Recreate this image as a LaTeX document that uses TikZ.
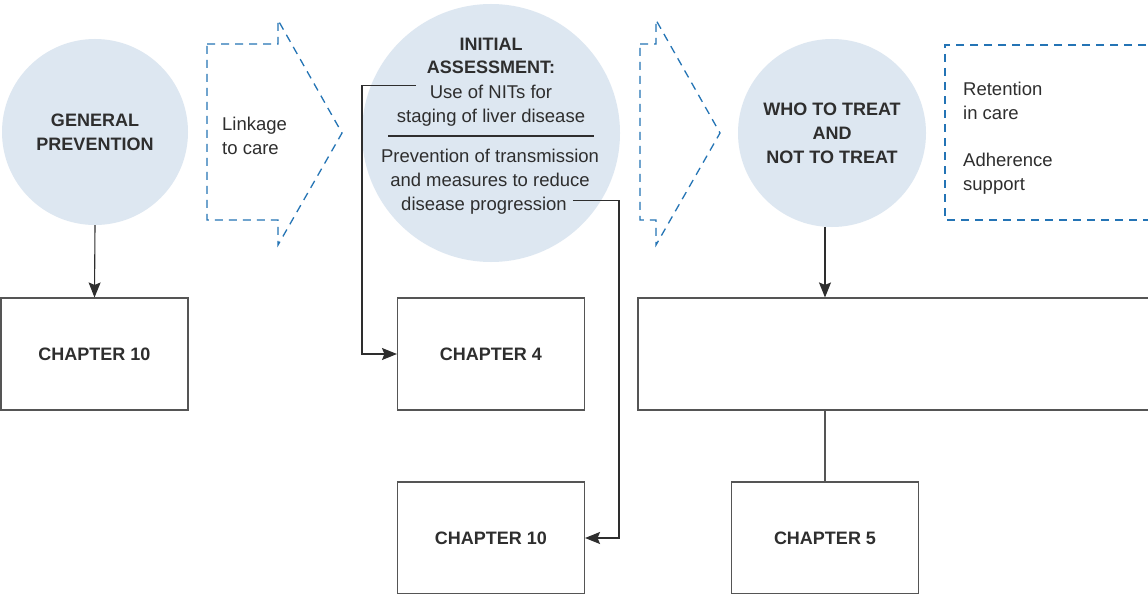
\documentclass[tikz,border=0pt]{standalone}
\usepackage{fontspec}
\setmainfont{Liberation Sans}
\usetikzlibrary{arrows.meta,calc}
\definecolor{circfill}{HTML}{DDE7F1}
\definecolor{dblue}{HTML}{2474B5}
\definecolor{txt}{HTML}{2E2E2E}
\definecolor{boxc}{HTML}{555555}
\begin{document}
\begin{tikzpicture}[x=1pt,y=-1pt,
  reg/.style={font=\fontsize{18.5}{24}\selectfont, text=txt, inner sep=0pt},
  bld/.style={font=\bfseries\fontsize{18}{24}\selectfont, text=txt, inner sep=0pt},
  bubble/.style={circle, fill=circfill, draw=none, inner sep=0pt, align=center,
     font=\bfseries\fontsize{18}{24}\selectfont, text=txt},
  chbox/.style={draw=boxc, line width=1.1pt, fill=white, minimum width=187pt,
     minimum height=112pt, inner sep=0pt, font=\bfseries\fontsize{18}{24}\selectfont, text=txt},
  dashblue/.style={draw=dblue, line width=1.3pt, dash pattern=on 8pt off 6pt},
  conn/.style={draw=txt, line width=1.1pt, -{Stealth[length=15pt,width=12pt,inset=2.5pt]}},
  plain/.style={draw=boxc, line width=1.1pt}]
\clip (0,0) rectangle (1148,594);
\fill[white] (0,0) rectangle (1148,594);

% circles
\node[bubble, minimum size=186pt] (gp) at (95,132) {GENERAL\\PREVENTION};
\node[bubble, minimum size=258pt] (ia) at (491,133) {};
\node[bubble, minimum size=188pt] (who) at (832,133) {WHO TO TREAT\\AND\\NOT TO TREAT};

% dashed arrow shapes
\path[dashblue] (207,44) -- (278,44) -- (278,20) -- (342,133) -- (278,245) -- (278,220) -- (207,220) -- cycle;
\path[dashblue] (640,44) -- (656,44) -- (656,20) -- (720,133) -- (656,245) -- (656,220) -- (640,220) -- cycle;
\path[dashblue] (1160,45) -- (945,45) -- (945,220) -- (1160,220);

% texts in dashed shapes
\node[reg, anchor=base west] (lk1) at (222,130) {Linkage};
\node[reg, anchor=base west] (lk2) at (222,154) {to care};
\node[reg, anchor=base west] (rt1) at (963,95) {Retention};
\node[reg, anchor=base west] (rt2) at (963,119) {in care};
\node[reg, anchor=base west] (ad1) at (963,166) {Adherence};
\node[reg, anchor=base west] (ad2) at (963,190) {support};

% initial assessment texts
\node[bld, anchor=base] (ia1) at (491,51) {INITIAL};
\node[bld, anchor=base] (ia2) at (491,74) {ASSESSMENT:};
\node[reg, anchor=base] (use) at (491,98) {Use of NITs for};
\node[reg, anchor=base] (stg) at (491,122) {staging of liver disease};
\coordinate (sepL) at (388,136);
\coordinate (sepR) at (594,136);
\draw[draw=txt, line width=1.1pt] (sepL) -- (sepR);
\node[reg, anchor=base] (pv1) at (490,162) {Prevention of transmission};
\node[reg, anchor=base] (pv2) at (490,186) {and measures to reduce};
\node[reg, anchor=base] (pv3) at (484,210) {disease progression};

% boxes
\node[chbox] (c10a) at (94.5,354) {CHAPTER 10};
\node[chbox] (c4) at (491,354) {CHAPTER 4};
\node[chbox] (c10b) at (491,538) {CHAPTER 10};
\node[chbox, minimum width=530pt] (big) at (903,354) {};
\node[chbox] (c5) at (825,538) {CHAPTER 5};

% connectors
\draw[conn] (gp.south) -- (c10a.north);
\draw[conn] (who.south -| c5.north) -- (big.north -| c5.north);
\draw[plain] (big.south -| c5.north) -- (c5.north);

\coordinate (nitsStart) at ($(use.west)+(-14,-6)$);
\coordinate (bendA) at (362,0);
\draw[conn] (nitsStart) -- (nitsStart -| bendA) -- (c4.west -| bendA) -- (c4.west);

\coordinate (progStart) at ($(pv3.east)+(6,-5)$);
\coordinate (bendB) at (619,0);
\draw[conn] (progStart) -- (progStart -| bendB) -- (c10b.east -| bendB) -- (c10b.east);
\end{tikzpicture}
\end{document}
